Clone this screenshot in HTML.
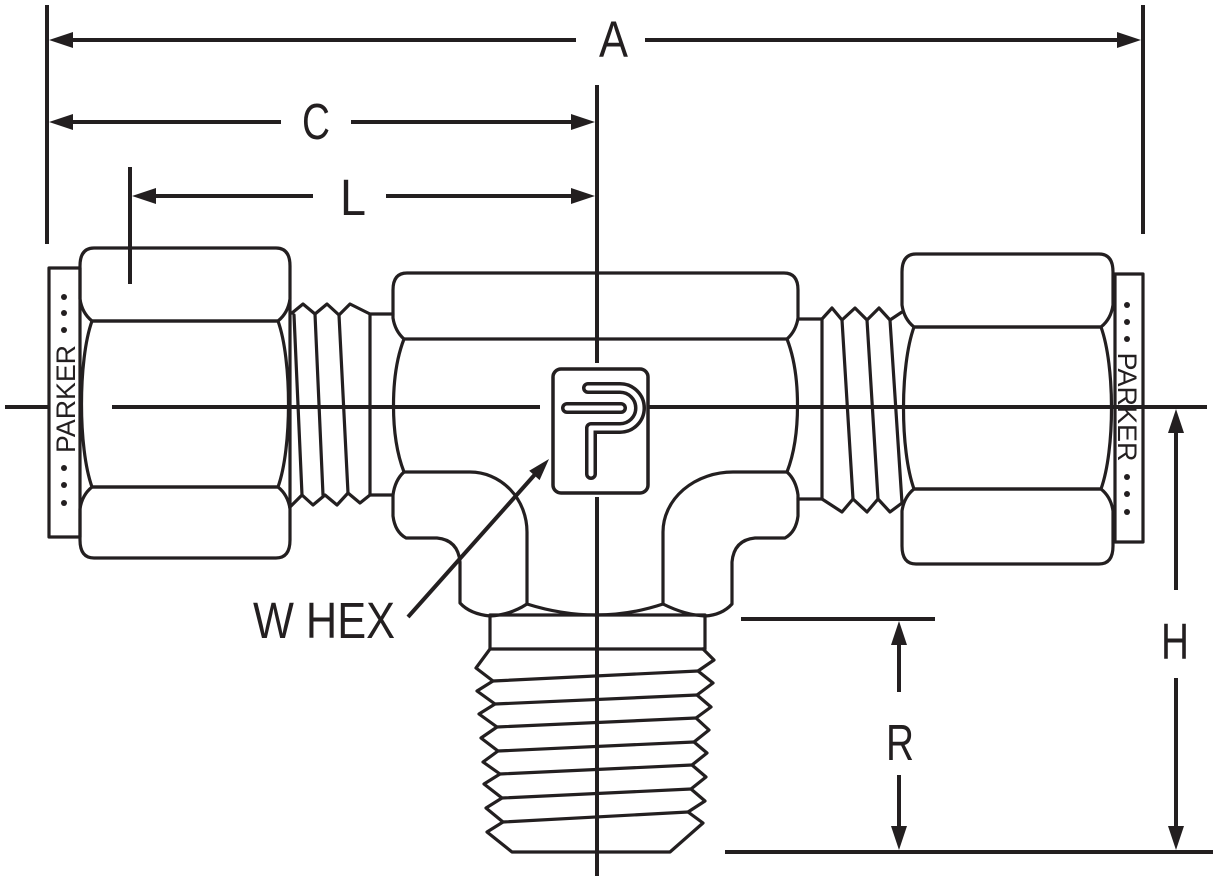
<!DOCTYPE html>
<html>
<head>
<meta charset="utf-8">
<style>
  html,body{margin:0;padding:0;background:#fff;}
  svg{display:block;}
  text{font-family:"Liberation Sans", Arial, sans-serif;fill:#231f20;}
</style>
</head>
<body>
<svg width="1213" height="881" viewBox="0 0 1213 881" xmlns="http://www.w3.org/2000/svg">
<rect width="1213" height="881" fill="#fff"/>

<g stroke="#231f20" stroke-width="4" fill="none">
  <line x1="47" y1="5" x2="47" y2="244"/>
  <line x1="1143" y1="5" x2="1143" y2="234"/>
  <line x1="130" y1="167" x2="130" y2="284"/>
  <line x1="60" y1="40" x2="576" y2="40"/>
  <line x1="645" y1="40" x2="1130" y2="40"/>
  <line x1="60" y1="122" x2="281" y2="122"/>
  <line x1="351" y1="122" x2="585" y2="122"/>
  <line x1="142" y1="196" x2="313" y2="196"/>
  <line x1="386" y1="196" x2="585" y2="196"/>
  <line x1="1176" y1="420" x2="1176" y2="590"/>
  <line x1="1176" y1="678" x2="1176" y2="840"/>
  <line x1="741" y1="619" x2="935" y2="619"/>
  <line x1="899" y1="632" x2="899" y2="692"/>
  <line x1="899" y1="775" x2="899" y2="840"/>
  <line x1="725" y1="852" x2="1213" y2="852"/>
  <line x1="408" y1="617" x2="538" y2="471"/>
  <line x1="597" y1="85" x2="597" y2="363"/>
  <line x1="597" y1="497" x2="597" y2="876"/>
  <line x1="5" y1="407" x2="48" y2="407"/>
  <line x1="112" y1="407" x2="540" y2="407"/>
  <line x1="647" y1="407" x2="1207" y2="407"/>
</g>

<g fill="#231f20">
  <polygon points="49,40 73,32 73,48"/>
  <polygon points="1141,40 1117,32 1117,48"/>
  <polygon points="49,122 73,114 73,130"/>
  <polygon points="595,122 571,114 571,130"/>
  <polygon points="132,196 156,188 156,204"/>
  <polygon points="595,196 571,188 571,204"/>
  <polygon points="1176,409 1168,433 1184,433"/>
  <polygon points="1176,850 1168,826 1184,826"/>
  <polygon points="899,621 891,645 907,645"/>
  <polygon points="899,850 891,826 907,826"/>
  <polygon points="549,459 539.6,480.1 529.2,470.7"/>
</g>

<text x="599" y="57" font-size="51" textLength="29" lengthAdjust="spacingAndGlyphs">A</text>
<text x="302" y="139" font-size="51" textLength="28" lengthAdjust="spacingAndGlyphs">C</text>
<text x="340" y="215" font-size="51" textLength="26" lengthAdjust="spacingAndGlyphs">L</text>
<text x="253" y="638" font-size="51" textLength="142" lengthAdjust="spacingAndGlyphs">W HEX</text>
<text x="1161" y="659" font-size="51" textLength="28" lengthAdjust="spacingAndGlyphs">H</text>
<text x="886" y="760" font-size="51" textLength="28" lengthAdjust="spacingAndGlyphs">R</text>

<g stroke="#231f20" stroke-width="3.2" fill="none" stroke-linejoin="round" stroke-linecap="round">
  <rect x="49" y="268" width="31" height="269"/>

  <path d="M 80,266 Q 80,248 94,248 L 276,248 Q 290,248 290,266 L 290,299 Q 288,313 278,321 L 92,321 Q 82,313 80,299 Z"/>
  <path d="M 92,321 L 278,321 C 292,360 292,448 278,487 L 92,487 C 78,448 78,360 92,321 Z"/>
  <path d="M 92,487 L 278,487 Q 288,495 290,509 L 290,540 Q 290,558 276,558 L 94,558 Q 80,558 80,540 L 80,509 Q 82,495 92,487 Z"/>
  <line x1="290" y1="300" x2="290" y2="508"/>

  <path d="M 292,313 L 303,304 L 315,314 L 327,304 L 339,315 L 350,304 L 370,314 L 393,314"/>
  <path d="M 290,507 L 302,495 L 313,505 L 325,495 L 337,505 L 348,493 L 360,503 L 370,495 L 393,495"/>
  <path d="M 294,315 L 302,495"/>
  <path d="M 315,314 L 323,495"/>
  <path d="M 339,315 L 348,493"/>
  <path d="M 370,314 L 370,495"/>

  <path d="M 393,290 Q 393,273 407,273 L 784,273 Q 798,273 798,290 L 798,318 Q 796,331 787,339 L 404,339 Q 395,331 393,318 Z"/>
  <path d="M 404,339 C 390,375 390,436 404,472"/>
  <path d="M 787,339 C 801,375 801,436 787,472"/>
  <path d="M 404,472 L 470,472 A 57,60 0 0 1 527,532 L 527,604"/>
  <path d="M 787,472 L 733,472 A 70,60 0 0 0 663,532 L 663,604"/>
  <path d="M 404,472 Q 395,480 393,495 L 393,516 Q 395,532 406,538 L 437,538 Q 458,540 460,562 L 460,603 Q 470,614 490,616 Q 510,615 527,604"/>
  <path d="M 527,604 Q 597,626 663,604"/>
  <path d="M 663,604 Q 685,615 705,616 Q 722,615 732,604 L 732,562 Q 734,540 755,538 L 785,538 Q 796,532 798,516 L 798,495 Q 796,480 787,472"/>

  <path d="M 798,319 L 822,319 L 822,499 L 798,499"/>
  <path d="M 822,319 L 832,308 L 842,320 L 855,308 L 867,320 L 879,308 L 890,320 L 902,312"/>
  <path d="M 822,499 L 842,512 L 853,499 L 867,512 L 878,499 L 890,512 L 902,503"/>
  <path d="M 842,320 L 853,499"/>
  <path d="M 867,320 L 878,499"/>
  <path d="M 890,320 L 902,503"/>

  <path d="M 902,272 Q 902,254 916,254 L 1099,254 Q 1113,254 1113,272 L 1113,305 Q 1111,319 1101,327 L 914,327 Q 904,319 902,305 Z"/>
  <path d="M 914,327 L 1101,327 C 1115,366 1115,450 1101,489 L 914,489 C 900,450 900,366 914,327 Z"/>
  <path d="M 914,489 L 1101,489 Q 1111,497 1113,511 L 1113,546 Q 1113,564 1099,564 L 916,564 Q 902,564 902,546 L 902,511 Q 904,497 914,489 Z"/>

  <rect x="1115" y="274" width="28" height="268"/>

  <rect x="490" y="615" width="215" height="34"/>

  <path d="M 490,649 L 476,668 L 493,681 L 477,691 L 495,704 L 479,714 L 497,727 L 481,738 L 498,751 L 483,762 L 500,774 L 484,784 L 502,798 L 486,808 L 503,822 L 487,832 L 512,852 L 670,852 L 703,823 L 688,812 L 705,801 L 691,789 L 706,777 L 692,765 L 707,753 L 694,742 L 709,730 L 696,718 L 711,707 L 697,695 L 713,683 L 698,671 L 714,660 L 703,649"/>
  <line x1="493" y1="681" x2="698" y2="671"/>
  <line x1="495" y1="704" x2="697" y2="695"/>
  <line x1="497" y1="727" x2="696" y2="718"/>
  <line x1="498" y1="751" x2="694" y2="742"/>
  <line x1="500" y1="774" x2="692" y2="765"/>
  <line x1="502" y1="798" x2="691" y2="789"/>
  <line x1="503" y1="822" x2="688" y2="812"/>

  <rect x="553" y="369" width="95" height="124" rx="8" stroke-width="3.5"/>
</g>

<line x1="597" y1="615" x2="597" y2="876" stroke="#231f20" stroke-width="4"/>

<g fill="none" stroke-linecap="round" stroke-linejoin="round">
  <path d="M 588,388 L 620,388 A 20,20 0 0 1 620,428 L 591,428 L 591,474" stroke="#231f20" stroke-width="12"/>
  <path d="M 588,388 L 620,388 A 20,20 0 0 1 620,428 L 591,428 L 591,474" stroke="#fff" stroke-width="5"/>
  <path d="M 567,408 L 621,408" stroke="#231f20" stroke-width="12"/>
  <path d="M 567,408 L 621,408" stroke="#fff" stroke-width="5"/>
</g>

<g fill="#231f20">
  <circle cx="64" cy="297" r="3"/>
  <circle cx="64" cy="313" r="3"/>
  <circle cx="64" cy="330" r="3"/>
  <circle cx="64" cy="468" r="3"/>
  <circle cx="64" cy="485" r="3"/>
  <circle cx="64" cy="503" r="3"/>
  <circle cx="1127" cy="305" r="3"/>
  <circle cx="1127" cy="322" r="3"/>
  <circle cx="1127" cy="339" r="3"/>
  <circle cx="1127" cy="477" r="3"/>
  <circle cx="1127" cy="494" r="3"/>
  <circle cx="1127" cy="512" r="3"/>
</g>
<text transform="translate(75,399) rotate(-90)" text-anchor="middle" font-size="27" textLength="108" lengthAdjust="spacingAndGlyphs">PARKER</text>
<text transform="translate(1118,407) rotate(90)" text-anchor="middle" font-size="27" textLength="109" lengthAdjust="spacingAndGlyphs">PARKER</text>

<line x1="1100" y1="407" x2="1207" y2="407" stroke="#231f20" stroke-width="4"/>
</svg>
</body>
</html>
